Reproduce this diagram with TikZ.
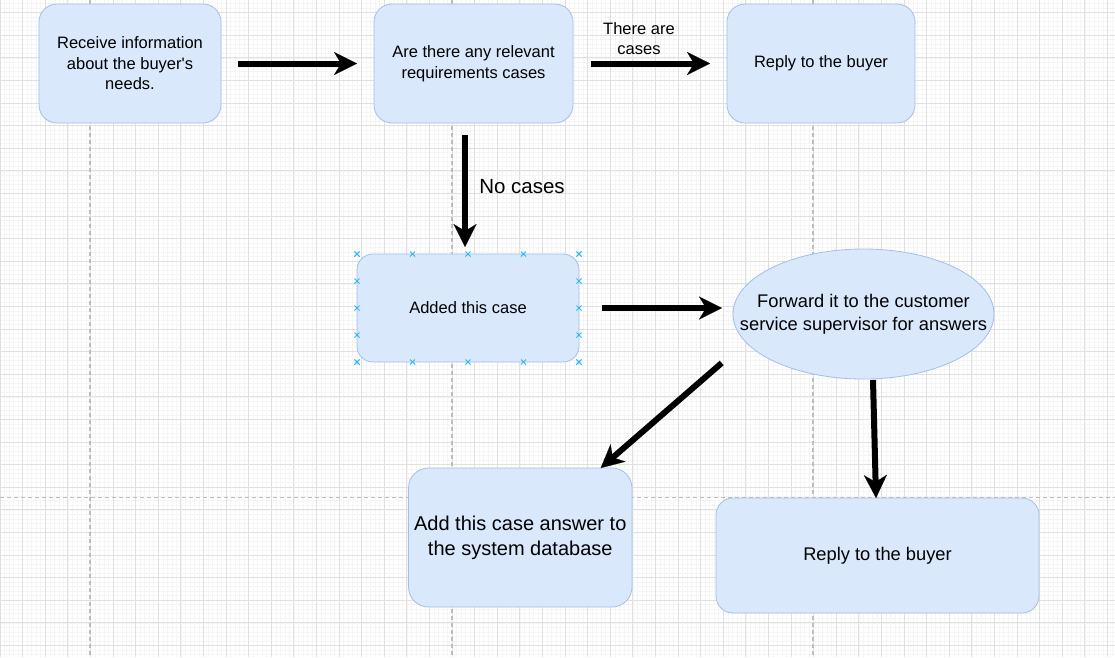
\documentclass[tikz,border=0pt]{standalone}
\usepackage{fontspec}
\setmainfont{Liberation Sans}
\usepackage{xcolor}
\definecolor{flowfill}{HTML}{DAE8FC}
\definecolor{flowline}{HTML}{A4BFE6}
\definecolor{gridminor}{HTML}{F5F5F5}
\definecolor{gridmajor}{HTML}{E0E0E0}
\definecolor{guideline}{HTML}{BDBDBD}
\definecolor{selblue}{HTML}{29B6F2}
\usepackage{tikz}
\usetikzlibrary{arrows.meta,positioning,shapes.geometric,calc}
\tikzset{
  flowbox/.style={draw=flowline,fill=flowfill,line width=0.8pt,inner sep=0pt,outer sep=0pt,align=center,font=\fontsize{16.5}{20.5}\selectfont},
  flowoval/.style={ellipse,draw=flowline,fill=flowfill,line width=0.8pt,inner xsep=-32pt,inner ysep=0pt,outer sep=0pt,align=center,font=\fontsize{18.3}{23.3}\selectfont},
  flowarrow/.style={-{Stealth[length=23pt,width=23pt,inset=7pt,line width=0.1pt]},line width=6pt,black},
  flowlabel/.style={align=center,inner sep=0pt,font=\fontsize{16.5}{20}\selectfont},
  guide/.style={guideline,line width=1.2pt,dash pattern=on 4pt off 3pt},
  selmark/.style={selblue,line width=1pt},
}
\begin{document}
\begin{tikzpicture}[x=1pt,y=-1pt]
\useasboundingbox (0,0) rectangle (1115,657);
\fill[white] (0,0) rectangle (1115,657);
% grid
\foreach \i in {0,...,247}{
  \draw[gridminor,line width=0.4pt] ({4.52*\i},0) -- ({4.52*\i},657);
  \draw[gridminor,line width=0.4pt] (0,{3.46+4.52*\i}) -- (1115,{3.46+4.52*\i});
}
\foreach \i in {0,...,49}{
  \draw[gridmajor,line width=0.8pt] ({22.6*\i},0) -- ({22.6*\i},657);
  \draw[gridmajor,line width=0.8pt] (0,{12.5+22.6*\i}) -- (1115,{12.5+22.6*\i});
}
\draw[guide] (90,0) -- (90,657);
\draw[guide] (452,0) -- (452,657);
\draw[guide] (813,0) -- (813,657);
\draw[guide] (0,497.7) -- (1115,497.7);
\draw[gridmajor,line width=0.8pt] (371,555) -- (409,555);

\node[flowbox,rounded corners=18pt,minimum width=182pt,minimum height=119pt] (rcv) at (130,63.5){Receive information\\about the buyer\textquotesingle s\\needs.};
\node[flowbox,rounded corners=18pt,minimum width=199pt,minimum height=119pt,right=153pt of rcv] (ask){Are there any relevant\\requirements cases};
\node[flowbox,rounded corners=18pt,minimum width=188pt,minimum height=119pt,right=154pt of ask] (rep){Reply to the buyer};
\node[flowbox,rounded corners=16pt,minimum width=222pt,minimum height=108pt] (add) at (468,308){Added this case};
\node[flowoval,minimum width=261pt,minimum height=130pt] (fwd) at (863.5,314){Forward it to the customer\\service supervisor for answers};
\node[flowbox,rounded corners=20pt,minimum width=223.5pt,minimum height=139pt,font=\fontsize{20}{25}\selectfont] (db) at (520.25,537.5){Add this case answer to\\the system database};
\node[flowbox,rounded corners=17pt,minimum width=323pt,minimum height=115pt,font=\fontsize{18.3}{22}\selectfont] (rep2) at (877.5,555.5){Reply to the buyer};

% selection handles
\foreach \t in {0,0.25,0.5,0.75,1}{
  \draw[selmark] ($(add.north west)!\t!(add.north east)$) +(-2.5,-2.5) -- +(2.5,2.5) +(-2.5,2.5) -- +(2.5,-2.5);
  \draw[selmark] ($(add.south west)!\t!(add.south east)$) +(-2.5,-2.5) -- +(2.5,2.5) +(-2.5,2.5) -- +(2.5,-2.5);
  \draw[selmark] ($(add.north west)!\t!(add.south west)$) +(-2.5,-2.5) -- +(2.5,2.5) +(-2.5,2.5) -- +(2.5,-2.5);
  \draw[selmark] ($(add.north east)!\t!(add.south east)$) +(-2.5,-2.5) -- +(2.5,2.5) +(-2.5,2.5) -- +(2.5,-2.5);
}

\node[flowlabel] (yes) at (639,39){There are\\cases};
\node[flowlabel,font=\fontsize{20.5}{24}\selectfont] (no) at (522,187){No cases};

\draw[flowarrow,shorten <=17pt,shorten >=17pt](rcv.east)--(ask.west);
\draw[flowarrow,shorten <=18pt,shorten >=17pt](ask.east)--(rep.west);
\draw[flowarrow]([shift={(-3,12)}]add.north |- ask.south)--([shift={(-3,-7)}]add.north);
\draw[flowarrow,shorten <=23pt,shorten >=11pt](add.east)--(add.east -| fwd.west);
\draw[flowarrow]([shift={(-49.5,3)}]fwd.south west)--([shift={(-31.3,0)}]db.north east);
\draw[flowarrow]([shift={(9.5,1)}]fwd.south)--([shift={(-1.5,0)}]rep2.north);
\end{tikzpicture}
\end{document}
